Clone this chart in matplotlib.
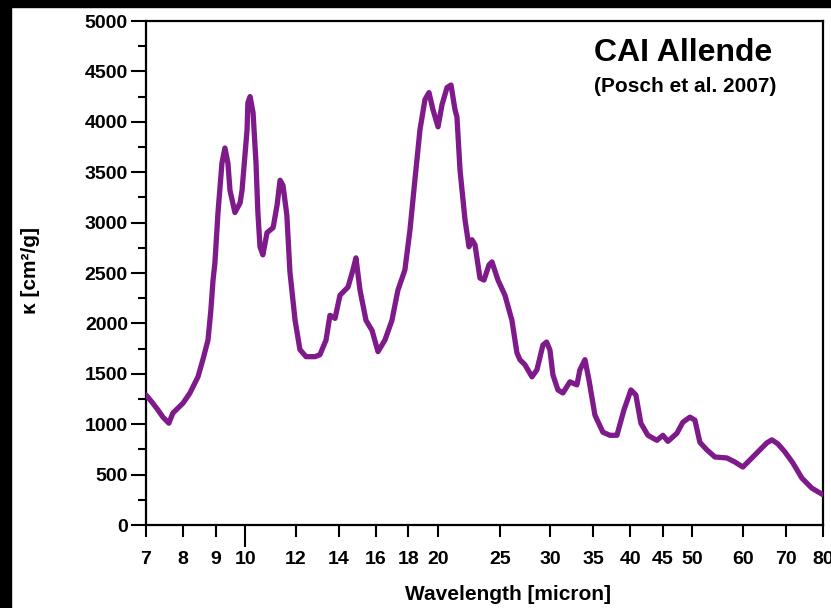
import matplotlib
matplotlib.use("Agg")
import matplotlib.pyplot as plt
from matplotlib.patches import Rectangle
from matplotlib.ticker import FixedLocator, FixedFormatter, MultipleLocator, NullFormatter

# Mass absorption coefficient of the Allende CAI sample
wavelength = [7.00, 7.15, 7.31, 7.44, 7.60, 7.71, 8.00, 8.20, 8.44, 8.59,
              8.75, 8.84, 8.91, 8.97, 9.07, 9.20, 9.30, 9.40, 9.47, 9.64,
              9.82, 9.89, 9.92, 10.07, 10.10, 10.18, 10.29, 10.40, 10.47, 10.55,
              10.66, 10.82, 11.06, 11.22, 11.34, 11.46, 11.62, 11.75, 11.97, 12.18,
              12.45, 12.86, 13.09, 13.38, 13.57, 13.82, 14.07, 14.48, 14.74, 14.90,
              15.12, 15.45, 15.79, 16.13, 16.54, 16.96, 17.33, 17.77, 18.10, 18.42,
              18.76, 19.10, 19.38, 19.66, 20.02, 20.31, 20.68, 20.98, 21.28, 21.43,
              21.67, 22.06, 22.38, 22.62, 22.87, 23.28, 23.62, 24.05, 24.31, 24.84,
              25.47, 26.12, 26.59, 26.88, 27.37, 28.07, 28.58, 29.20, 29.59, 29.95,
              30.27, 30.82, 31.38, 32.18, 33.00, 33.36, 33.97, 34.46, 35.21, 36.24,
              37.16, 38.11, 39.08, 40.08, 40.80, 41.54, 42.60, 44.01, 44.97, 45.78,
              47.29, 48.32, 49.56, 50.46, 51.37, 52.68, 54.22, 56.61, 58.26, 59.96,
              61.49, 63.29, 65.37, 66.56, 68.01, 69.75, 71.79, 74.15, 76.87, 80.00]
kappa = [1290, 1220, 1140, 1070, 1010, 1110, 1210, 1310, 1470, 1640,
         1835, 2130, 2430, 2600, 3100, 3590, 3740, 3590, 3320, 3100,
         3195, 3320, 3420, 3920, 4190, 4250, 4090, 3590, 3100, 2760,
         2680, 2900, 2950, 3175, 3420, 3370, 3075, 2510, 2030, 1740,
         1670, 1670, 1690, 1835, 2080, 2050, 2280, 2360, 2530, 2650,
         2330, 2030, 1930, 1720, 1835, 2030, 2330, 2530, 2930, 3420,
         3920, 4220, 4290, 4120, 3950, 4170, 4340, 4365, 4120, 4050,
         3520, 3030, 2760, 2830, 2780, 2450, 2430, 2580, 2610, 2430,
         2280, 2030, 1710, 1640, 1590, 1470, 1540, 1785, 1815, 1735,
         1490, 1340, 1310, 1420, 1390, 1540, 1640, 1440, 1090, 920,
         890, 890, 1140, 1340, 1290, 1010, 890, 840, 890, 830,
         910, 1020, 1070, 1040, 820, 745, 675, 665, 625, 575,
         645, 725, 815, 845, 805, 725, 615, 465, 365, 300]

xtick_values = [7, 8, 9, 12, 14, 16, 18, 20, 25, 30, 35, 40, 45, 50, 60, 70, 80]
xtick_labels = [str(v) for v in xtick_values]

plt.rcParams["font.family"] = ["Liberation Sans", "DejaVu Sans"]
plt.rcParams["font.weight"] = "bold"

fig = plt.figure(figsize=(8.31, 6.08), dpi=100)
ax = fig.add_axes([0.17569, 0.13651, 0.81468, 0.82895])

ax.plot(wavelength, kappa, color="#7f1a8b", lw=3.8,
        solid_capstyle="round", solid_joinstyle="round", zorder=3)

ax.set_xscale("log")
ax.set_xlim(7, 80)
ax.set_ylim(0, 5000)

# x axis: 10 gets the long tick, the rest short ones, labels on one line
ax.xaxis.set_major_locator(FixedLocator([10]))
ax.xaxis.set_major_formatter(FixedFormatter(["10"]))
ax.xaxis.set_minor_locator(FixedLocator(xtick_values))
ax.xaxis.set_minor_formatter(FixedFormatter(xtick_labels))
ax.tick_params(axis="x", which="major", direction="out", length=16, width=1.5,
               pad=2.5, labelsize=14)
ax.tick_params(axis="x", which="minor", direction="out", length=8.5, width=1.5,
               pad=10, labelsize=14)

ax.yaxis.set_major_locator(MultipleLocator(500))
ax.yaxis.set_minor_locator(MultipleLocator(250))
ax.yaxis.set_minor_formatter(NullFormatter())
ax.tick_params(axis="y", which="major", direction="out", length=11, width=1.5,
               pad=2, labelsize=14)
ax.tick_params(axis="y", which="minor", direction="out", length=6, width=1.5)

for s in ax.spines.values():
    s.set_linewidth(1.6)

fig.text(594 / 831, 1 - 53 / 608, "CAI Allende", fontsize=23,
         ha="left", va="center")
fig.text(594 / 831, 1 - 86 / 608, "(Posch et al. 2007)", fontsize=15,
         ha="left", va="center")

fig.text(508 / 831, 1 - 595 / 608, "Wavelength [micron]", fontsize=15,
         ha="center", va="center")
fig.text(30 / 831, 1 - 270 / 608, "κ [cm²/g]", fontsize=15,
         rotation=90, ha="center", va="center")

# dark frame strips along the top and left edge
fig.add_artist(Rectangle((0, 1 - 7 / 608), 1, 7 / 608,
                         transform=fig.transFigure, color="black", zorder=10))
fig.add_artist(Rectangle((0, 0), 11 / 831, 1,
                         transform=fig.transFigure, color="black", zorder=10))

fig.savefig("out.png", dpi=100)
